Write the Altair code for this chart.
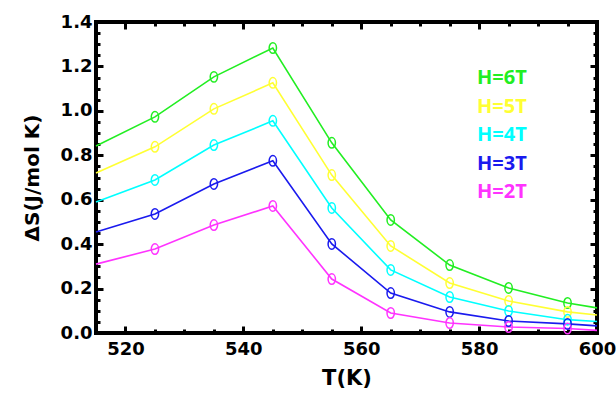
import altair as alt
import pandas as pd

# ---- data ----
T_line = [515, 525, 535, 545, 555, 565, 575, 585, 595, 600]
series = ["H=6T", "H=5T", "H=4T", "H=3T", "H=2T"]
colors = ["#22ee22", "#ffff33", "#00ffff", "#1a1aee", "#ff33ff"]
dS_6T = [0.842, 0.973, 1.153, 1.283, 0.856, 0.509, 0.306, 0.203, 0.135, 0.113]
dS_5T = [0.720, 0.838, 1.009, 1.126, 0.711, 0.392, 0.225, 0.144, 0.095, 0.081]
dS_4T = [0.590, 0.689, 0.846, 0.955, 0.563, 0.284, 0.162, 0.099, 0.060, 0.052]
dS_3T = [0.455, 0.536, 0.671, 0.775, 0.401, 0.180, 0.095, 0.054, 0.041, 0.032]
dS_2T = [0.310, 0.378, 0.486, 0.572, 0.243, 0.090, 0.045, 0.027, 0.020, 0.012]
T_marker = [525, 535, 545, 555, 565, 575, 585, 595]

x_major = [520, 540, 560, 580, 600]
x_minor = [515, 525, 530, 535, 545, 550, 555, 565, 570, 575, 585, 590, 595]
y_major = [0.0, 0.2, 0.4, 0.6, 0.8, 1.0, 1.2, 1.4]
y_minor = [0.05, 0.1, 0.15, 0.25, 0.3, 0.35, 0.45, 0.5, 0.55, 0.65, 0.7, 0.75,
           0.85, 0.9, 0.95, 1.05, 1.1, 1.15, 1.25, 1.3, 1.35]
x_ends = [515, 600]
y_ends = [0.0, 1.4]

values = [dS_6T, dS_5T, dS_4T, dS_3T, dS_2T]
rows = []
for name, vals in zip(series, values):
    for t, v in zip(T_line, vals):
        rows.append({"T": t, "dS": v, "H": name, "marker": t in T_marker})
df = pd.DataFrame(rows)
df_m = df[df["marker"]].reset_index(drop=True)

FONT = "DejaVu Sans"
xs = alt.Scale(domain=[515, 600], nice=False, zero=False)
ys = alt.Scale(domain=[0, 1.4], nice=False, zero=False)
cs = alt.Scale(domain=series, range=colors)

MAJ, MIN = 7, 4
common = dict(domain=False, grid=False, tickColor="#000000", tickWidth=3,
              tickOpacity=1, labelOverlap=False, labelFlush=False)

x_axis_main = alt.Axis(values=x_major, format="d", orient="bottom", offset=-MAJ,
                       tickSize=MAJ, labelFont=FONT, labelFontSize=18,
                       labelFontWeight="bold", labelColor="black", labelPadding=7,
                       title="T(K)", titleFont=FONT, titleFontSize=21,
                       titleFontWeight="bold", titleColor="black", titlePadding=9,
                       **common)
y_axis_main = alt.Axis(values=y_major, format=".1f", orient="left", offset=-MAJ,
                       tickSize=MAJ, labelFont=FONT, labelFontSize=18,
                       labelFontWeight="bold", labelColor="black", labelPadding=4,
                       title="ΔS(J/mol K)", titleFont=FONT, titleFontSize=20,
                       titleFontWeight="bold", titleColor="black", titlePadding=18,
                       **common)

ellipse = "M -0.7 0 A 0.7 1 0 1 0 0.7 0 A 0.7 1 0 1 0 -0.7 0 Z"

FRAME = "black"
# plot frame drawn as rules along the scale extents
frame_v = alt.Chart(pd.DataFrame({"T": x_ends})).mark_rule(
    color=FRAME, strokeWidth=4).encode(
    x=alt.X("T:Q", scale=xs, axis=x_axis_main),
    y=alt.value(0), y2=alt.value(311))
frame_h = alt.Chart(pd.DataFrame({"dS": y_ends})).mark_rule(
    color=FRAME, strokeWidth=4).encode(
    y=alt.Y("dS:Q", scale=ys, axis=y_axis_main),
    x=alt.value(0), x2=alt.value(501))

lines = alt.Chart(df).mark_line(strokeWidth=1.6).encode(
    x=alt.X("T:Q", scale=xs),
    y=alt.Y("dS:Q", scale=ys),
    color=alt.Color("H:N", scale=cs, legend=None),
    detail="H:N",
)
points = alt.Chart(df_m).mark_point(shape=ellipse, size=110, filled=False,
                                    strokeWidth=1.5, opacity=1).encode(
    x=alt.X("T:Q", scale=xs),
    y=alt.Y("dS:Q", scale=ys),
    color=alt.Color("H:N", scale=cs, legend=None),
)

texts = []
for i, (name, col) in enumerate(zip(series, colors)):
    texts.append(
        alt.Chart(pd.DataFrame({"label": [name]})).mark_text(
            align="left", baseline="middle", font="Open Sans", fontSize=20,
            fontWeight="bold", color=col
        ).encode(text="label:N", x=alt.value(381), y=alt.value(56 + i * 28.5))
    )

main = alt.layer(frame_v, frame_h, lines, points, *texts)


def tick_layer(xv, yv, xo, yo, size):
    return alt.Chart(df_m).mark_point(opacity=0).encode(
        x=alt.X("T:Q", scale=xs,
                axis=alt.Axis(values=xv, orient=xo, offset=-size, tickSize=size,
                              labels=False, title=None, **common)),
        y=alt.Y("dS:Q", scale=ys,
                axis=alt.Axis(values=yv, orient=yo, offset=-size, tickSize=size,
                              labels=False, title=None, **common)),
    )


chart = alt.layer(
    main,
    tick_layer(x_minor, y_minor, "bottom", "left", MIN),
    tick_layer(x_major, y_major, "top", "right", MAJ),
    tick_layer(x_minor, y_minor, "top", "right", MIN),
).resolve_scale(x="independent", y="independent").properties(
    width=501, height=311,
    background="white",
    autosize=alt.AutoSizeParams(type="none"),
    padding={"left": 96, "top": 22, "right": 19, "bottom": 67},
).configure_view(stroke="black", strokeWidth=4)

chart.save("out.html", embed_options={"renderer": "svg", "actions": False})
